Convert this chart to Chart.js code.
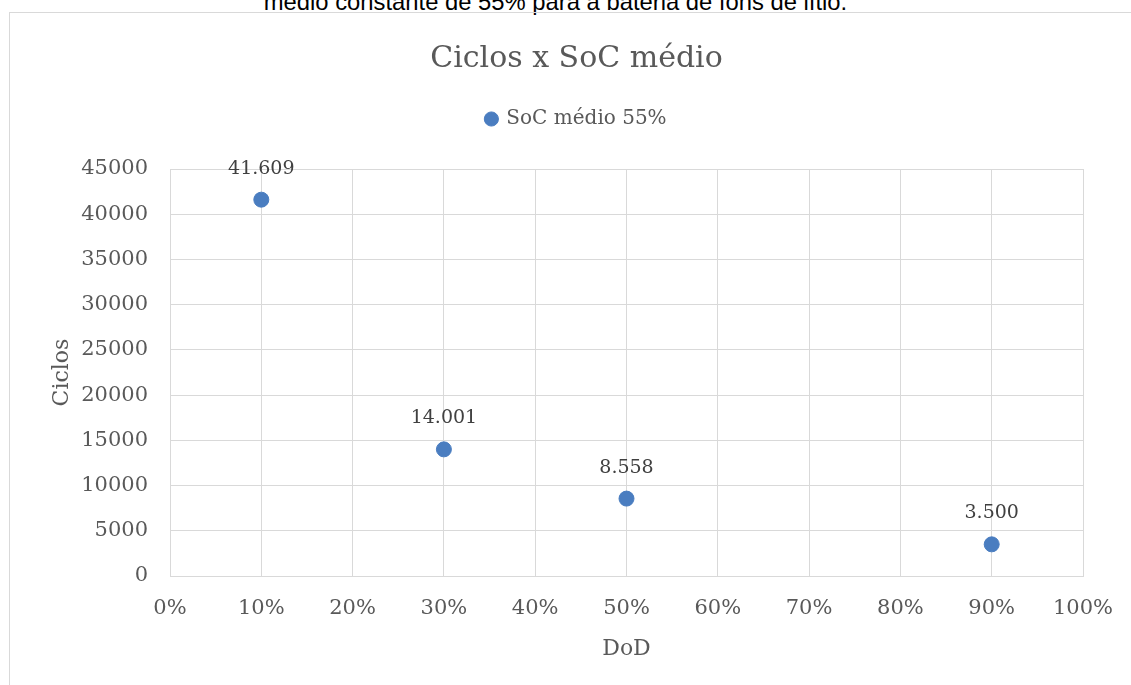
<!DOCTYPE html>
<html>
<head>
<meta charset="utf-8">
<script src="https://cdn.jsdelivr.net/npm/chart.js@4.4.1/dist/chart.umd.min.js"></script>
<style>
  html, body { margin: 0; padding: 0; background: #fff; overflow: hidden; }
  body { width: 1131px; height: 685px; position: relative; }
  .caption {
    position: absolute; left: -10px; top: -12px; width: 1131px; text-align: center;
    font-family: "Liberation Sans", Arial, sans-serif; font-size: 23.8px; color: #000;
    white-space: nowrap;
  }
  .frame {
    position: absolute; left: 9px; top: 12px; width: 1140px; height: 700px;
    border: 1px solid #d9d9d9; box-sizing: border-box;
  }
  .wrap { position: absolute; left: 0; top: 0; width: 1131px; height: 685px; }
</style>
</head>
<body>
<div class="caption">médio constante de 55% para a bateria de íons de lítio.</div>
<div class="frame"></div>
<div class="wrap"><canvas id="chart"></canvas></div>
<script>
const seriesName = 'SoC médio 55%';
const dod = [10, 30, 50, 90];
const ciclos = [41609, 14001, 8558, 3500];

const textColor = '#595959';
const gridColor = '#d9d9d9';
const serif = '"DejaVu Serif", serif';

// value labels above each point, pt-BR thousands separator
const pointLabels = {
  id: 'pointLabels',
  afterDatasetsDraw(chart) {
    const ctx = chart.ctx;
    const meta = chart.getDatasetMeta(0);
    ctx.save();
    ctx.font = '19px ' + serif;
    ctx.fillStyle = '#404040';
    ctx.textAlign = 'center';
    ctx.textBaseline = 'middle';
    meta.data.forEach((pt, i) => {
      const txt = ciclos[i].toString().replace(/\B(?=(\d{3})+(?!\d))/g, '.');
      ctx.fillText(txt, pt.x, pt.y - 31);
    });
    ctx.restore();
  }
};

// extra room between the legend and the plot
const legendGap = {
  id: 'legendGap',
  beforeInit(chart) {
    const fit = chart.legend.fit;
    chart.legend.fit = function () {
      fit.call(this);
      this.height += 30;
    };
  }
};

new Chart(document.getElementById('chart'), {
  type: 'scatter',
  data: {
    datasets: [{
      label: seriesName,
      data: dod.map((x, i) => ({ x: x, y: ciclos[i] })),
      backgroundColor: '#4a7dc0',
      borderColor: '#4a7dc0',
      pointRadius: 7.5,
      pointHoverRadius: 7.5
    }]
  },
  options: {
    responsive: true,
    maintainAspectRatio: false,
    animation: false,
    layout: { padding: { left: 42, right: 20, top: 0, bottom: 23 } },
    plugins: {
      title: {
        display: true,
        text: 'Ciclos x SoC médio',
        color: textColor,
        font: { family: serif, size: 30, weight: 'normal' },
        padding: { top: 41, bottom: 22 }
      },
      legend: {
        display: true,
        labels: {
          usePointStyle: true,
          pointStyle: 'circle',
          boxWidth: 10,
          boxHeight: 10,
          color: textColor,
          font: { family: serif, size: 20 },
          padding: 10
        }
      },
      tooltip: { enabled: false }
    },
    scales: {
      x: {
        type: 'linear',
        min: 0,
        max: 100,
        afterFit(scale) {
          scale.height = 86;
          scale.paddingLeft = 0;
          scale.paddingRight = 48;
        },
        ticks: {
          stepSize: 10,
          color: textColor,
          font: { family: serif, size: 21 },
          padding: 20,
          callback: v => v + '%'
        },
        grid: { color: gridColor, drawTicks: false },
        border: { color: gridColor },
        title: {
          display: true,
          text: 'DoD',
          color: textColor,
          font: { family: serif, size: 22 },
          padding: { top: 0, bottom: 0 }
        }
      },
      y: {
        min: 0,
        max: 45000,
        afterFit(scale) { scale.width = 128; },
        ticks: {
          stepSize: 5000,
          color: textColor,
          font: { family: serif, size: 21 },
          padding: 22,
          callback: v => String(v)
        },
        grid: { color: gridColor, drawTicks: false },
        border: { color: gridColor },
        title: {
          display: true,
          text: 'Ciclos',
          color: textColor,
          font: { family: serif, size: 22 },
          padding: { top: 7, bottom: 0 }
        }
      }
    }
  },
  plugins: [pointLabels, legendGap]
});
</script>
</body>
</html>
